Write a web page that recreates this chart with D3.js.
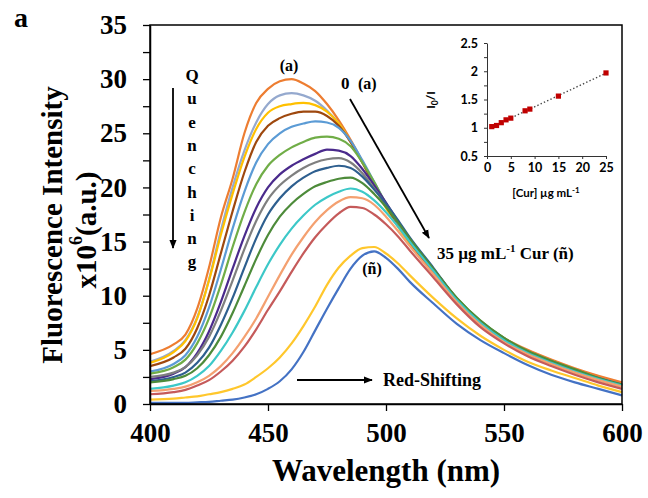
<!DOCTYPE html>
<html>
<head>
<meta charset="utf-8">
<script src="https://cdn.jsdelivr.net/npm/d3@7"></script>
<style>
  body { margin: 0; background: #fff; }
  svg text { font-family: "Liberation Serif", "Times New Roman", serif; font-weight: bold; fill: #000; }
  .inset text { font-family: Lato, "Open Sans", sans-serif; }
</style>
</head>
<body>
<div id="chart"></div>
<script>
// wavelength grid (nm) shared by all spectra
const wavelengths = [400, 410, 415, 420, 425, 430, 435, 440, 445, 450, 455, 460, 465, 470, 475, 480, 485, 490, 495, 500, 505, 510, 520, 530, 540, 550, 560, 570, 580, 590, 600];

// fluorescence intensity x10^6, curve (a) .. curve (ñ)
const curveA = [4.6, 5.5, 6.4, 8.8, 12.6, 17.2, 20.8, 25.0, 27.8, 29.1, 29.8, 30.0, 29.6, 28.9, 27.7, 26.2, 24.4, 22.4, 20.3, 18.3, 16.6, 15.0, 12.3, 9.7, 7.6, 6.1, 5.0, 4.1, 3.3, 2.6, 2.0];
const curveB = [3.9, 4.9, 5.9, 8.0, 11.5, 16.0, 20.0, 23.4, 26.0, 27.7, 28.5, 28.7, 28.5, 28.0, 27.1, 25.9, 24.2, 22.3, 20.2, 18.2, 16.5, 14.9, 12.2, 9.5, 7.4, 5.8, 4.7, 3.8, 3.0, 2.3, 1.7];
const curveC = [3.8, 4.8, 5.8, 7.9, 11.4, 15.6, 19.4, 22.8, 25.4, 26.9, 27.5, 27.7, 27.8, 27.6, 27.0, 25.9, 24.2, 22.3, 20.2, 18.1, 16.4, 14.8, 12.1, 9.4, 7.3, 5.7, 4.6, 3.7, 2.9, 2.2, 1.6];
const curveD = [3.5, 4.3, 5.1, 7.0, 10.0, 13.9, 17.8, 21.4, 24.2, 25.7, 26.4, 26.8, 27.0, 27.0, 26.6, 25.7, 24.2, 22.3, 20.3, 18.3, 16.6, 15.0, 12.2, 9.5, 7.4, 5.8, 4.7, 3.8, 3.0, 2.3, 1.7];
const curveE = [3.0, 3.7, 4.5, 6.2, 8.9, 12.4, 16.2, 19.6, 22.3, 24.0, 25.0, 25.6, 25.9, 26.1, 26.0, 25.5, 24.3, 22.5, 20.5, 18.5, 16.8, 15.2, 12.4, 9.6, 7.5, 5.9, 4.8, 3.9, 3.1, 2.4, 1.8];
const curveF = [2.8, 3.4, 4.1, 5.6, 7.9, 11.0, 14.5, 17.7, 20.3, 22.0, 23.0, 23.7, 24.2, 24.6, 24.7, 24.5, 23.8, 22.3, 20.5, 18.5, 16.8, 15.2, 12.4, 9.8, 7.7, 6.1, 4.9, 4.0, 3.2, 2.4, 1.7];
const curveG = [2.3, 2.8, 3.4, 4.7, 6.7, 9.4, 12.5, 15.5, 18.1, 20.0, 21.2, 22.0, 22.6, 23.1, 23.5, 23.4, 22.9, 21.7, 20.2, 18.6, 16.9, 15.3, 12.5, 9.7, 7.6, 6.0, 4.8, 3.9, 3.1, 2.3, 1.7];
const curveH = [2.5, 2.9, 3.4, 4.5, 6.2, 8.6, 11.4, 14.3, 16.9, 18.9, 20.2, 21.1, 21.8, 22.3, 22.6, 22.7, 22.3, 21.3, 19.9, 18.4, 16.8, 15.2, 12.4, 9.6, 7.5, 5.9, 4.8, 3.9, 3.1, 2.3, 1.7];
const curveI = [2.1, 2.5, 2.9, 3.8, 5.2, 7.3, 9.8, 12.6, 15.3, 17.5, 19.0, 20.1, 20.9, 21.5, 21.8, 22.0, 21.8, 21.0, 19.8, 18.5, 17.0, 15.4, 12.6, 9.7, 7.6, 6.0, 4.8, 3.9, 3.1, 2.4, 1.8];
const curveJ = [2.0, 2.3, 2.6, 3.3, 4.5, 6.2, 8.4, 10.9, 13.4, 15.6, 17.3, 18.5, 19.4, 20.1, 20.5, 20.8, 20.9, 20.4, 19.4, 18.2, 16.8, 15.3, 12.5, 9.8, 7.7, 6.1, 4.9, 4.0, 3.2, 2.4, 1.8];
const curveK = [1.4, 1.7, 2.0, 2.6, 3.5, 4.9, 6.6, 8.6, 10.8, 12.9, 14.7, 16.2, 17.4, 18.4, 19.1, 19.6, 19.9, 19.6, 18.8, 17.7, 16.4, 15.0, 12.3, 9.6, 7.5, 5.9, 4.7, 3.8, 3.0, 2.3, 1.7];
const curveL = [1.2, 1.4, 1.6, 2.0, 2.6, 3.5, 4.7, 6.2, 7.9, 9.9, 11.9, 13.8, 15.4, 16.8, 17.9, 18.7, 19.1, 19.0, 18.4, 17.3, 16.0, 14.6, 12.0, 9.4, 7.3, 5.7, 4.6, 3.7, 2.9, 2.2, 1.6];
const curveM = [0.9, 1.1, 1.3, 1.7, 2.2, 3.0, 4.0, 5.3, 6.9, 8.7, 10.4, 12.2, 13.9, 15.4, 16.6, 17.6, 18.2, 18.1, 17.5, 16.6, 15.5, 14.2, 11.7, 9.2, 7.1, 5.6, 4.4, 3.5, 2.7, 2.0, 1.4];
const curveN = [0.4, 0.5, 0.6, 0.7, 0.9, 1.1, 1.4, 1.8, 2.5, 3.3, 4.3, 5.6, 7.2, 9.0, 11.0, 12.6, 13.7, 14.4, 14.5, 13.9, 13.0, 11.9, 9.8, 7.9, 6.3, 5.0, 3.9, 3.1, 2.4, 1.7, 1.1];
const curveNtilde = [0.1, 0.1, 0.1, 0.15, 0.2, 0.3, 0.4, 0.6, 0.9, 1.4, 2.1, 3.2, 4.8, 6.8, 8.8, 10.7, 12.5, 13.7, 14.1, 13.5, 12.5, 11.3, 9.3, 7.4, 5.9, 4.7, 3.6, 2.7, 2.0, 1.4, 0.8];

const spectra = [curveA, curveB, curveC, curveD, curveE, curveF, curveG, curveH, curveI, curveJ, curveK, curveL, curveM, curveN, curveNtilde];
const seriesColors = ['#ED7D31', '#95A9CE', '#FFC000', '#9E480E', '#5B9BD5', '#70AD47', '#4A2A8C', '#7F7F7F',
  '#2E5F8F', '#4D8B3A', '#3CC8C8', '#F4A070', '#C55A5A', '#FFC72C', '#4472C4'];

const xTicks = [400, 450, 500, 550, 600];
const yTicks = [0, 5, 10, 15, 20, 25, 30, 35];

// inset: Stern-Volmer plot
const insetConc = [1, 2, 3, 4, 5, 8, 9, 15, 25];
const insetRatio = [1.02, 1.04, 1.09, 1.14, 1.17, 1.30, 1.33, 1.56, 1.97];
const insetXTicks = [0, 5, 10, 15, 20, 25];
const insetYTicks = [0.5, 1, 1.5, 2, 2.5];

const W = 648, H = 498;
const margin = { top: 25, right: 26, bottom: 94, left: 150 };

const svg = d3.select('#chart').append('svg')
  .attr('width', W)
  .attr('height', H);

svg.append('rect').attr('width', W).attr('height', H).attr('fill', '#fff');

let defs = svg.append('defs');
defs.append('marker')
  .attr('id', 'arrow')
  .attr('viewBox', '0 0 10 10')
  .attr('refX', 9).attr('refY', 5)
  .attr('markerWidth', 5).attr('markerHeight', 5)
  .attr('markerUnits', 'strokeWidth')
  .attr('orient', 'auto')
  .append('path')
  .attr('d', 'M0,1 L10,5 L0,9 Z')
  .attr('fill', '#000');

let x = d3.scaleLinear().domain([400, 600]).range([margin.left, W - margin.right]);
let y = d3.scaleLinear().domain([0, 35]).range([H - margin.bottom, margin.top]);

// spectra
let line = d3.line()
  .x((d, i) => x(wavelengths[i]))
  .y(d => y(d))
  .curve(d3.curveMonotoneX);

svg.append('g').selectAll('path')
  .data(spectra)
  .enter().append('path')
  .attr('d', line)
  .attr('fill', 'none')
  .attr('stroke', (d, i) => seriesColors[i])
  .attr('stroke-width', 2.2)
  .attr('stroke-linejoin', 'round');

// frame
svg.append('rect')
  .attr('x', margin.left).attr('y', margin.top)
  .attr('width', W - margin.left - margin.right)
  .attr('height', H - margin.top - margin.bottom)
  .attr('fill', 'none')
  .attr('stroke', '#000')
  .attr('stroke-width', 1.5);

// axes
let xAxis = svg.append('g')
  .attr('transform', `translate(0,${H - margin.bottom})`)
  .call(d3.axisBottom(x).tickValues(xTicks).tickSize(7).tickSizeOuter(0).tickPadding(12));

let yAxis = svg.append('g')
  .attr('transform', `translate(${margin.left},0)`)
  .call(d3.axisLeft(y).tickValues(d3.range(0, 35.1, 2.5)).tickSize(7).tickSizeOuter(0)
    .tickPadding(16).tickFormat(d => yTicks.includes(d) ? d : ''));

[xAxis, yAxis].forEach(a => {
  a.select('.domain').attr('stroke', '#000').attr('stroke-width', 1.5);
  a.selectAll('.tick line').attr('stroke', '#000').attr('stroke-width', 1.3);
  a.selectAll('.tick text')
    .attr('font-family', '"Liberation Serif", serif')
    .attr('font-weight', 'bold')
    .attr('font-size', 27)
    .attr('fill', '#000');
});

// axis titles
svg.append('text')
  .attr('x', x(500)).attr('y', 481)
  .attr('text-anchor', 'middle')
  .attr('font-size', 31)
  .text('Wavelength (nm)');

svg.append('text')
  .attr('transform', 'translate(52,225) rotate(-90)')
  .attr('text-anchor', 'middle')
  .attr('dominant-baseline', 'central')
  .attr('font-size', 29)
  .text('Fluorescence Intensity');

let yt2 = svg.append('text')
  .attr('transform', 'translate(86,230) rotate(-90)')
  .attr('text-anchor', 'middle')
  .attr('dominant-baseline', 'central')
  .attr('font-size', 29);
yt2.append('tspan').text('x10');
yt2.append('tspan').attr('font-size', 18).attr('dy', -10).text('6');
yt2.append('tspan').attr('dy', 10).text('(a.u.)');

svg.append('text')
  .attr('x', 14).attr('y', 27)
  .attr('font-size', 28)
  .text('a');

// "Quenching" written vertically, with arrow
'Quenching'.split('').forEach((ch, i) => {
  svg.append('text')
    .attr('x', 192).attr('y', 81 + i * 23.3)
    .attr('text-anchor', 'middle')
    .attr('font-size', 17)
    .text(ch);
});
svg.append('line')
  .attr('x1', 173).attr('y1', 88).attr('x2', 173).attr('y2', 248)
  .attr('stroke', '#000').attr('stroke-width', 1.8)
  .attr('marker-end', 'url(#arrow)');

// curve labels
svg.append('text').attr('x', 289).attr('y', 71).attr('text-anchor', 'middle')
  .attr('font-size', 16).text('(a)');
svg.append('text').attr('x', 341).attr('y', 89).attr('font-size', 17).text('0');
svg.append('text').attr('x', 358).attr('y', 89).attr('font-size', 16).text('(a)');
svg.append('line')
  .attr('x1', 350).attr('y1', 99).attr('x2', 429).attr('y2', 238)
  .attr('stroke', '#000').attr('stroke-width', 1.8)
  .attr('marker-end', 'url(#arrow)');

let endLabel = svg.append('text').attr('x', 437).attr('y', 259).attr('font-size', 17);
endLabel.append('tspan').text('35 µg mL');
endLabel.append('tspan').attr('font-size', 11).attr('dy', -7).text('-1');
endLabel.append('tspan').attr('dy', 7).text(' Cur (ñ)');

svg.append('text').attr('x', 372).attr('y', 274).attr('text-anchor', 'middle')
  .attr('font-size', 16).text('(ñ)');

svg.append('line')
  .attr('x1', 297).attr('y1', 380).attr('x2', 372).attr('y2', 380)
  .attr('stroke', '#000').attr('stroke-width', 1.8)
  .attr('marker-end', 'url(#arrow)');
svg.append('text').attr('x', 383).attr('y', 386).attr('font-size', 18).text('Red-Shifting');

// ---- inset ----
let inset = svg.append('g').classed('inset', true);
let ix = d3.scaleLinear().domain([0, 25]).range([487, 606]);
let iy = d3.scaleLinear().domain([0.5, 2.5]).range([156, 43]);

// linear trend line fitted to the points
let mx = d3.mean(insetConc), my = d3.mean(insetRatio);
let slope = d3.sum(insetConc, (c, i) => (c - mx) * (insetRatio[i] - my)) / d3.sum(insetConc, c => (c - mx) * (c - mx));
let icpt = my - slope * mx;
inset.append('line')
  .attr('x1', ix(insetConc[0])).attr('y1', iy(icpt + slope * insetConc[0]))
  .attr('x2', ix(25)).attr('y2', iy(icpt + slope * 25))
  .attr('stroke', '#444').attr('stroke-width', 1.4)
  .attr('stroke-dasharray', '1.4,2.2');

inset.append('g').selectAll('rect')
  .data(insetConc)
  .enter().append('rect')
  .attr('x', d => ix(d) - 2.6)
  .attr('y', (d, i) => iy(insetRatio[i]) - 2.6)
  .attr('width', 5.2).attr('height', 5.2)
  .attr('fill', '#C00000');

let ixAxis = inset.append('g')
  .attr('transform', `translate(0,${iy(0.5)})`)
  .call(d3.axisBottom(ix).tickValues(insetXTicks).tickSize(3).tickSizeOuter(0).tickPadding(4));
let iyAxis = inset.append('g')
  .attr('transform', `translate(${ix(0)},0)`)
  .call(d3.axisLeft(iy).tickValues(d3.range(0.5, 2.51, 0.25)).tickSize(3).tickSizeOuter(0).tickPadding(6)
    .tickFormat(d => insetYTicks.includes(d) ? d : ''));

[ixAxis, iyAxis].forEach(a => {
  a.select('.domain').attr('stroke', '#333').attr('stroke-width', 1);
  a.selectAll('.tick line').attr('stroke', '#333');
  a.selectAll('.tick text')
    .attr('font-family', 'Lato, sans-serif')
    .attr('font-weight', 'bold')
    .attr('font-size', 12.5)
    .attr('fill', '#222');
});

let ixt = inset.append('text')
  .attr('x', 546).attr('y', 197)
  .attr('text-anchor', 'middle')
  .attr('font-weight', 'normal')
  .attr('font-size', 11.5)
  .attr('fill', '#333');
ixt.append('tspan').text('[Cur] µg mL');
ixt.append('tspan').attr('font-size', 8).attr('dy', -4).text('-1');

let iyt = inset.append('text')
  .attr('transform', 'translate(435,100) rotate(-90)')
  .attr('text-anchor', 'middle')
  .attr('font-weight', 'normal')
  .attr('font-size', 12)
  .attr('fill', '#333');
iyt.append('tspan').text('I');
iyt.append('tspan').attr('font-size', 8.5).attr('dy', 3).text('0');
iyt.append('tspan').attr('dy', -3).text('/I');
</script>
</body>
</html>
